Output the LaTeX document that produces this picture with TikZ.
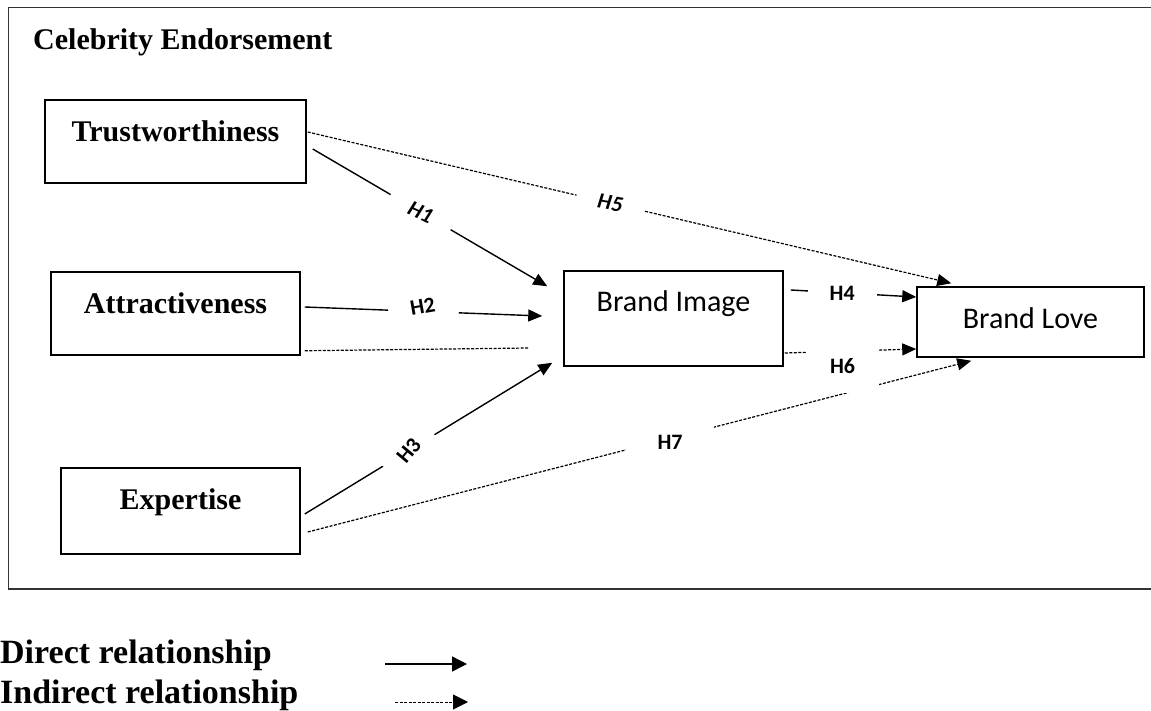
\documentclass[tikz,border=0pt]{standalone}
\usepackage{fontspec}
\setmainfont{Liberation Serif}
\newfontfamily\calibri{Carlito}
\usetikzlibrary{arrows.meta}

\begin{document}
\begin{tikzpicture}[x=1pt,y=-1pt,>={Triangle[length=14pt,width=12pt]},
  box/.style={draw,line width=1.5pt,inner sep=0pt,anchor=base,font=\bfseries\fontsize{30}{30}\selectfont},
  brandbox/.style={box,font=\calibri\fontsize{30}{30}\selectfont},
  direct/.style={->,line width=1.4pt},
  indirect/.style={->,line width=1.2pt,dash pattern=on 3pt off 1.5pt},
  hyp/.style={fill=white,inner ysep=6pt,font=\calibri\bfseries\fontsize{22}{22}\selectfont},
  hypit/.style={hyp,font=\calibri\bfseries\itshape\fontsize{22}{22}\selectfont},
  legend/.style={anchor=base west,inner sep=0pt,font=\bfseries\fontsize{34}{34}\selectfont}]
  \useasboundingbox (0,0) rectangle (1151,711);

  % frame, runs off the right edge
  \draw[line width=1.8pt,black!80] (1151,7.5) -| (8.5,589) -- (1151,589);
  \node[anchor=base west,inner sep=0pt,font=\bfseries\fontsize{30}{30}\selectfont] (title) at (33,50) {Celebrity Endorsement};

  \node[box,minimum width=261pt,text height=42pt,text depth=41pt] (trust) at (175.5,142) {Trustworthiness};
  \node[box,minimum width=249pt,text height=41pt,text depth=42pt] (attr) at (175.5,313) {Attractiveness};
  \node[box,minimum width=239pt,text height=41pt,text depth=45pt] (expert) at (180.5,509) {Expertise};
  \node[brandbox,minimum width=219pt,text height=41pt,text depth=54pt] (image) at (673.5,312) {Brand Image};
  \node[brandbox,minimum width=227pt,text height=41pt,text depth=29pt] (love) at (1030.5,328) {Brand Love};

  % direct paths
  \draw[direct] ([shift={(6,7.5)}]trust.east) -- node[hypit,pos=0.46,rotate=-25,inner xsep=22pt] {H1} ([shift={(-16,16)}]image.north west);
  \draw[direct] ([shift={(4,-6.5)}]attr.east) -- node[hyp,pos=0.5,rotate=10,inner xsep=22pt,yshift=5pt] {H2} ([shift={(-21,-2.5)}]image.west);
  \draw[direct] ([shift={(4,3)}]expert.east) -- node[hyp,pos=0.42,rotate=50,inner xsep=16pt] {H3} ([shift={(-11,-4)}]image.south west);
  \draw[direct] ([shift={(7,-28.5)}]image.east) -- node[hyp,pos=0.41,inner xsep=22pt] {H4} ([shift={(0,-25)}]love.west);

  % indirect paths
  \draw[indirect,-] ([shift={(4,-5)}]attr.south east) -- ([shift={(-34,29.5)}]image.west);
  \draw[indirect] ([shift={(1,-9.5)}]trust.east) -- node[hypit,pos=0.47,rotate=-10,inner xsep=22pt] {H5} ([shift={(35,-3)}]love.north west);
  \draw[indirect] ([shift={(7,21)}]expert.east) -- node[hyp,pos=0.546,minimum width=88pt,minimum height=40pt,yshift=-4pt] {H7} ([shift={(55,3)}]love.south west);
  \draw[indirect] ([shift={(1,34.5)}]image.east) -- node[hyp,pos=0.44,minimum width=73pt,minimum height=53pt,yshift=-15pt] {H6} ([shift={(0,27)}]love.west);

  % legend
  \node[legend] (ldirect) at (0,663) {Direct relationship};
  \node[legend] (lindirect) at (0,703) {Indirect relationship};
  \coordinate (d1) at (385,664);
  \coordinate (d2) at (467,664);
  \coordinate (i1) at (395,702);
  \coordinate (i2) at (468,702);
  \draw[direct,>={Triangle[length=15pt,width=15pt]}] (d1) -- (d2);
  \draw[indirect,line width=1pt,>={Triangle[length=15pt,width=15pt]}] (i1) -- (i2);
\end{tikzpicture}
\end{document}
